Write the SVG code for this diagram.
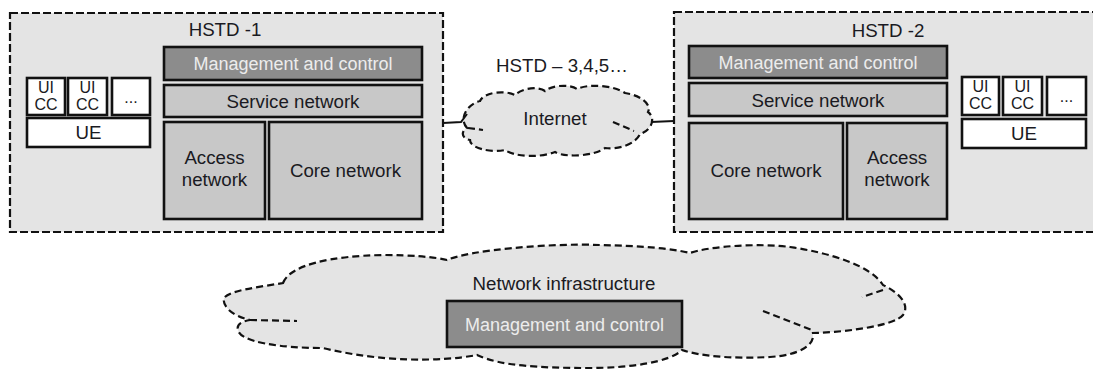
<svg xmlns="http://www.w3.org/2000/svg" width="1093" height="369" viewBox="0 0 1093 369">
<style>
.bg{fill:#fff}
.domain{fill:#e4e4e4;stroke:#111;stroke-width:2.2;stroke-dasharray:8 3}
.cloud{fill:#e4e4e4;stroke:#111;stroke-width:2.2;stroke-dasharray:7 4;stroke-linecap:butt}
.cl{fill:none;stroke:#111;stroke-width:2.2;stroke-dasharray:7 4}
.mc{fill:#8c8c8c;stroke:#111;stroke-width:2.6}
.net{fill:#c8c8c8;stroke:#111;stroke-width:2.6}
.ue{fill:#fff;stroke:#111;stroke-width:2.6}
.conn{fill:none;stroke:#111;stroke-width:2}
text{font-family:"Liberation Sans",Arial,sans-serif;font-size:18.7px;text-anchor:middle;fill:#1a1a22}
.lt{fill:#ececec;font-size:18px}
.sm{font-size:16px}
</style>
<rect class="bg" x="0" y="0" width="1093" height="369"/>

<g id="hstd1">
<rect class="domain" x="10" y="13" width="433" height="219"/>
<text x="225" y="36">HSTD -1</text>
</g>
<g id="hstd1-mc">
<rect class="mc" x="164" y="47" width="258" height="33"/>
<text class="lt" x="293" y="70">Management and control</text>
</g>
<g id="hstd1-service">
<rect class="net" x="164" y="85" width="258" height="32"/>
<text x="293" y="108">Service network</text>
</g>
<g id="hstd1-access">
<rect class="net" x="164" y="122" width="101" height="97"/>
<text x="214.5" y="164">Access</text>
<text x="214.5" y="186">network</text>
</g>
<g id="hstd1-core">
<rect class="net" x="269" y="122" width="153" height="97"/>
<text x="345.5" y="177">Core network</text>
</g>
<g id="hstd1-uicc1">
<rect class="ue" x="27" y="78" width="38" height="37"/>
<text class="sm" x="46" y="93">UI</text>
<text class="sm" x="46" y="110">CC</text>
</g>
<g id="hstd1-uicc2">
<rect class="ue" x="68" y="78" width="39" height="37"/>
<text class="sm" x="87.5" y="93">UI</text>
<text class="sm" x="87.5" y="110">CC</text>
</g>
<g id="hstd1-more">
<rect class="ue" x="112" y="78" width="38" height="37"/>
<text class="sm" x="131" y="103">...</text>
</g>
<g id="hstd1-ue">
<rect class="ue" x="27" y="118" width="123" height="29"/>
<text x="88.5" y="139">UE</text>
</g>

<g id="hstd2">
<rect class="domain" x="674" y="12" width="430" height="220"/>
<text x="888" y="37">HSTD -2</text>
</g>
<g id="hstd2-mc">
<rect class="mc" x="689" y="46" width="258" height="32"/>
<text class="lt" x="818" y="69">Management and control</text>
</g>
<g id="hstd2-service">
<rect class="net" x="689" y="83" width="258" height="33"/>
<text x="818" y="107">Service network</text>
</g>
<g id="hstd2-core">
<rect class="net" x="689" y="123" width="154" height="96"/>
<text x="766" y="177">Core network</text>
</g>
<g id="hstd2-access">
<rect class="net" x="847" y="123" width="100" height="96"/>
<text x="897" y="164">Access</text>
<text x="897" y="186">network</text>
</g>
<g id="hstd2-uicc1">
<rect class="ue" x="962" y="77" width="37" height="38"/>
<text class="sm" x="980.5" y="92">UI</text>
<text class="sm" x="980.5" y="109">CC</text>
</g>
<g id="hstd2-uicc2">
<rect class="ue" x="1003" y="77" width="39" height="38"/>
<text class="sm" x="1022.5" y="92">UI</text>
<text class="sm" x="1022.5" y="109">CC</text>
</g>
<g id="hstd2-more">
<rect class="ue" x="1047" y="77" width="39" height="38"/>
<text class="sm" x="1066.5" y="102">...</text>
</g>
<g id="hstd2-ue">
<rect class="ue" x="962" y="119" width="124" height="29"/>
<text x="1024" y="140">UE</text>
</g>

<g id="hstd-others">
<text x="562" y="72">HSTD – 3,4,5…</text>
</g>

<g id="internet">
<path class="cloud" d="M467,128 C458,118 468,104 480,101 C484,92 505,90 515,95 C522,88 538,86 545,91 C552,85 570,84 577,89 C590,83 615,86 625,93 C640,95 652,104 648,112 C656,118 652,130 640,134 C636,144 618,150 605,148 C595,156 565,158 555,152 C540,158 515,157 505,150 C490,153 470,148 470,140 C460,138 462,130 467,128 Z"/>
<path class="cl" d="M468,128 L483,130 M613,122 L634,131"/>
<text x="555" y="125">Internet</text>
</g>

<g id="infrastructure">
<path class="cloud" d="M283,283 C290,265 330,256 383,255 C410,255 435,257 447,260 C470,250 550,243 600,245 C640,246 670,248 690,253 C710,246 760,243 790,247 C830,253 870,265 883,285 C900,293 910,305 903,315 C895,325 850,332 813,333 C815,345 800,355 770,357 C730,359 700,356 682,350 C670,362 630,368 590,368 C540,368 500,366 477,355 C440,362 380,362 323,348 C280,348 240,342 238,330 C236,324 243,321 250,320 C232,316 222,306 224,298 C230,290 260,287 283,283 Z"/>
<path class="cl" d="M250,320 L297,321 M883,290 L862,297 M763,311 L812,330"/>
<text x="564" y="290">Network infrastructure</text>
</g>
<g id="infra-mc">
<rect class="mc" x="447" y="301" width="235" height="46"/>
<text class="lt" x="564.5" y="331">Management and control</text>
</g>

<g id="connectors">
<path class="conn" d="M443,123 L461,122 L467,114"/>
<path class="conn" d="M651,122 L674,121"/>
</g>
</svg>
